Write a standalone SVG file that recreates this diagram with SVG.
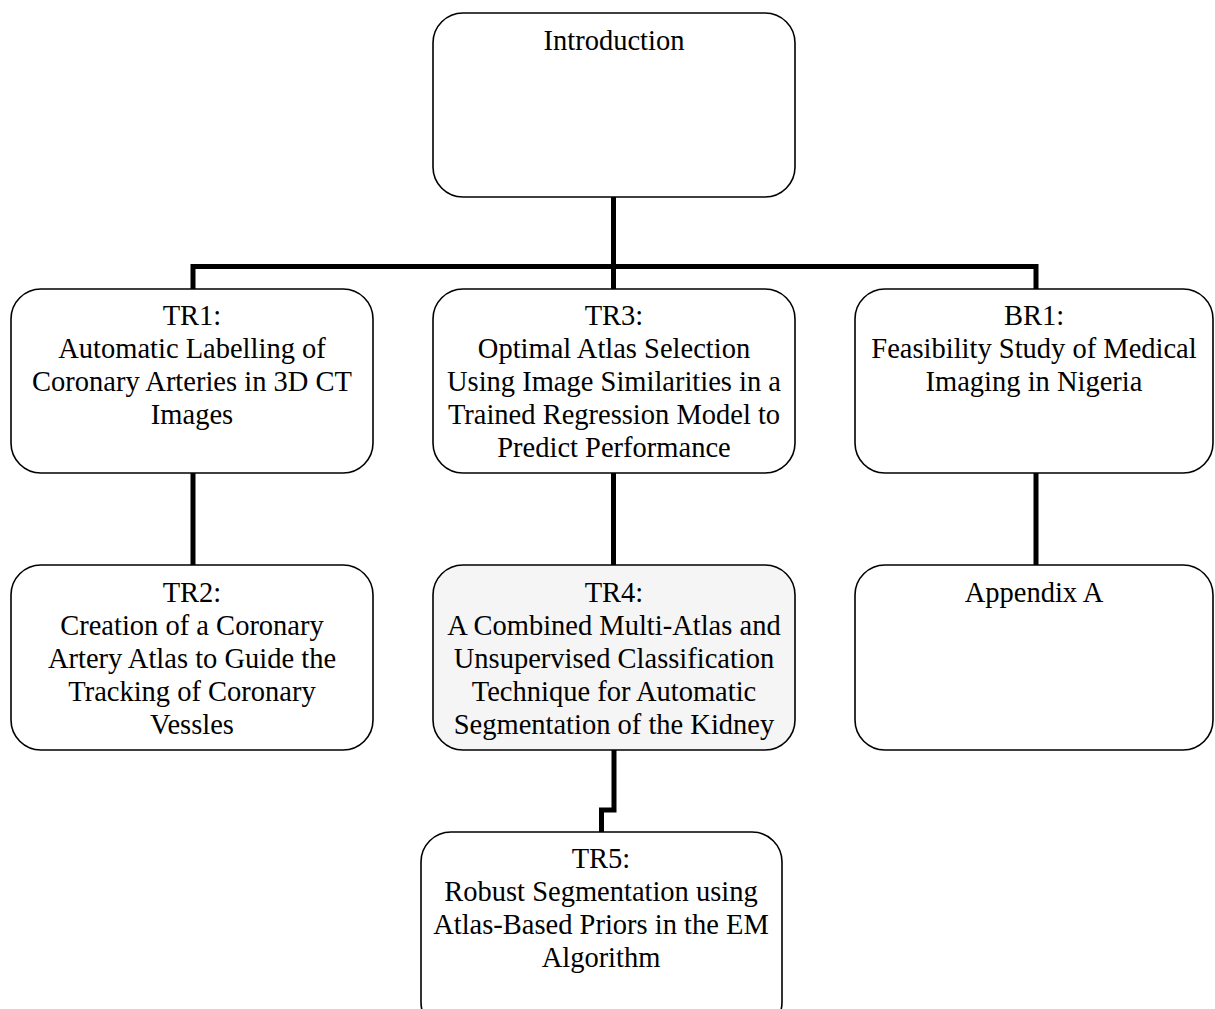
<svg xmlns="http://www.w3.org/2000/svg" width="1215" height="1009" viewBox="0 0 1215 1009">
<style>
.box{fill:#ffffff;stroke:#000;stroke-width:1.6}
.shaded{fill:#f5f5f5}
.t{font-family:"Liberation Serif","Times New Roman",serif;font-size:28.5px;fill:#000;text-anchor:middle}
.c{fill:none;stroke:#000;stroke-width:5;stroke-linejoin:miter;stroke-linecap:butt}
</style>
<rect width="1215" height="1009" fill="#ffffff"/>
<g id="connectors">
<path class="c" d="M613.5 197V289"/>
<path class="c" d="M193 289V266.5H1036V289"/>
<path class="c" d="M193 473V565"/>
<path class="c" d="M613.5 473V565"/>
<path class="c" d="M1036 473V565"/>
<path class="c" d="M614 750V810H601.5V832"/>
</g>
<g id="intro">
<rect class="box" x="433" y="13" width="362" height="184" rx="30"/>
<text class="t" x="614" y="50">Introduction</text>
</g>
<g id="tr1">
<rect class="box" x="11" y="289" width="362" height="184" rx="30"/>
<text class="t" x="192" y="325">TR1:<tspan x="192" dy="33">Automatic Labelling of</tspan><tspan x="192" dy="33">Coronary Arteries in 3D CT</tspan><tspan x="192" dy="33">Images</tspan></text>
</g>
<g id="tr3">
<rect class="box" x="433" y="289" width="362" height="184" rx="30"/>
<text class="t" x="614" y="325">TR3:<tspan x="614" dy="33">Optimal Atlas Selection</tspan><tspan x="614" dy="33">Using Image Similarities in a</tspan><tspan x="614" dy="33">Trained Regression Model to</tspan><tspan x="614" dy="33">Predict Performance</tspan></text>
</g>
<g id="br1">
<rect class="box" x="855" y="289" width="358" height="184" rx="30"/>
<text class="t" x="1034" y="325">BR1:<tspan x="1034" dy="33">Feasibility Study of Medical</tspan><tspan x="1034" dy="33">Imaging in Nigeria</tspan></text>
</g>
<g id="tr2">
<rect class="box" x="11" y="565" width="362" height="185" rx="30"/>
<text class="t" x="192" y="602">TR2:<tspan x="192" dy="33">Creation of a Coronary</tspan><tspan x="192" dy="33">Artery Atlas to Guide the</tspan><tspan x="192" dy="33">Tracking of Coronary</tspan><tspan x="192" dy="33">Vessles</tspan></text>
</g>
<g id="tr4">
<rect class="box shaded" x="433" y="565" width="362" height="185" rx="30"/>
<text class="t" x="614" y="602">TR4:<tspan x="614" dy="33">A Combined Multi-Atlas and</tspan><tspan x="614" dy="33">Unsupervised Classification</tspan><tspan x="614" dy="33">Technique for Automatic</tspan><tspan x="614" dy="33">Segmentation of the Kidney</tspan></text>
</g>
<g id="appendixA">
<rect class="box" x="855" y="565" width="358" height="185" rx="30"/>
<text class="t" x="1034" y="602">Appendix A</text>
</g>
<g id="tr5">
<rect class="box" x="421" y="832" width="361" height="200" rx="30"/>
<text class="t" x="601" y="868">TR5:<tspan x="601" dy="33">Robust Segmentation using</tspan><tspan x="601" dy="33">Atlas-Based Priors in the EM</tspan><tspan x="601" dy="33">Algorithm</tspan></text>
</g>
</svg>
